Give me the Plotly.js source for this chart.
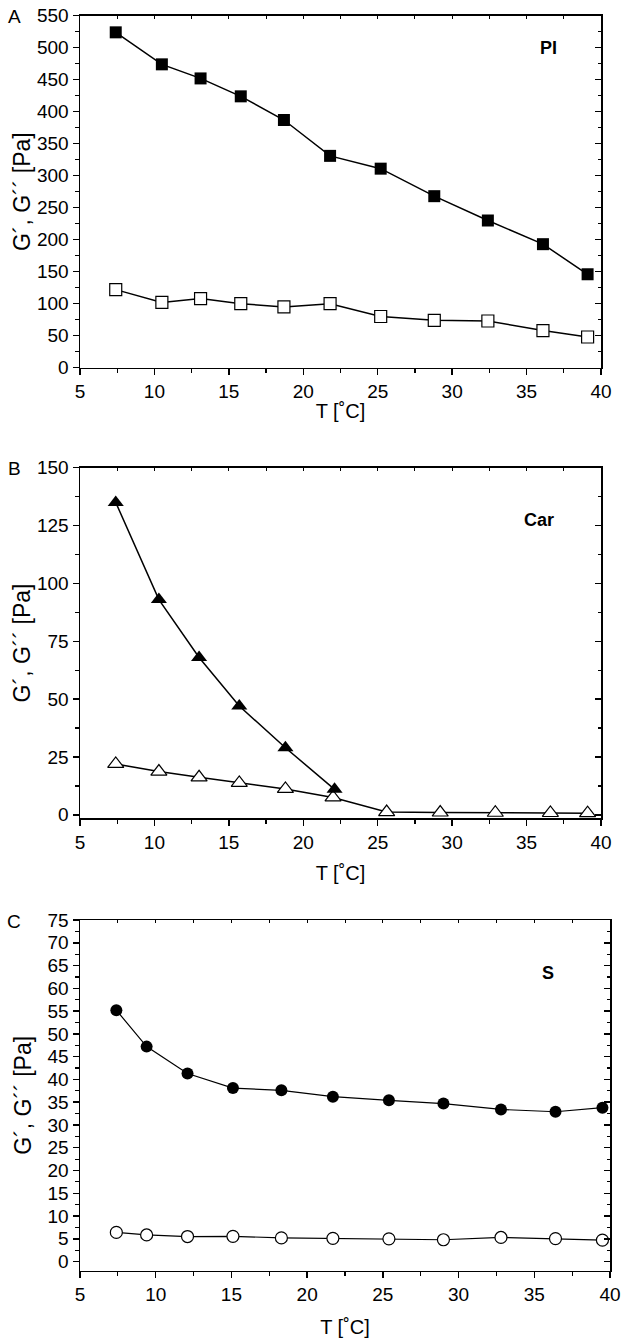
<!DOCTYPE html>
<html>
<head>
<meta charset="utf-8">
<script src="https://cdn.plot.ly/plotly-3.0.1.min.js"></script>
<style>html,body{margin:0;padding:0;background:#fff;}#chart{width:633px;height:1343px;}</style>
</head>
<body>
<div id="chart"></div>
<script>
// ---- Data ----
const panelLetters = ['A', 'B', 'C'];
const sampleNames = ['PI', 'Car', 'S'];
const xTitle = 'T [˚C]';
const yTitle = 'G´, G´´ [Pa]';

// Panel A – PI
const A_T = [7.4, 10.5, 13.1, 15.8, 18.7, 21.8, 25.2, 28.8, 32.4, 36.1, 39.1];
const A_Gp = [524, 474, 452, 424, 387, 331, 311, 268, 230, 193, 146];
const A_Gpp = [122, 102, 108, 100, 95, 100, 80, 74, 73, 58, 48];

// Panel B – Car
const B_T1 = [7.4, 10.3, 13.0, 15.7, 18.8, 22.1];
const B_Gp = [135, 93, 68, 47, 29, 11];
const B_T2 = [7.4, 10.3, 13.0, 15.7, 18.8, 22.0, 25.6, 29.2, 32.9, 36.6, 39.1];
const B_Gpp = [22, 18.7, 16.2, 13.8, 11.2, 7.5, 1.2, 1.0, 0.9, 0.8, 0.7];

// Panel C – S
const C_T = [7.4, 9.4, 12.1, 15.1, 18.3, 21.7, 25.4, 29.0, 32.8, 36.4, 39.5];
const C_Gp = [55.2, 47.2, 41.3, 38.1, 37.6, 36.2, 35.4, 34.7, 33.4, 32.9, 33.8];
const C_Gpp = [6.4, 5.85, 5.5, 5.55, 5.2, 5.1, 5.0, 4.8, 5.3, 5.05, 4.7];

// ---- Styling / layout ----
const W = 633, H = 1343;
const FONT = 'Liberation Sans, Arial, Helvetica, sans-serif';
const px = v => v / W;
const py = v => 1 - v / H;

const panels = [
  {x0: 80, x1: 601, yTop: 15.7, yBot: 367.7, yr: [0, 550], dy: 50, mdy: 25, ysoff: 0, xsoff: 3,
   traces: [
     {x: A_T, y: A_Gpp, sym: 'square-open', size: 12, lw: 1.5},
     {x: A_T, y: A_Gp, sym: 'square', size: 12, lw: 1.5}
   ], lab: {x: 548, y: 48}},
  {x0: 80, x1: 601, yTop: 467.7, yBot: 818.3, yr: [-1.5, 150], dy: 25, mdy: 12.5, ysoff: 0, xsoff: 14,
   traces: [
     {x: B_T2, y: B_Gpp, sym: 'triangle-up-open', size: 14, lw: 1.5},
     {x: B_T1, y: B_Gp, sym: 'triangle-up', size: 14, lw: 1.5}
   ], lab: {x: 539, y: 520}},
  {x0: 80, x1: 610, yTop: 920, yBot: 1270.7, yr: [-2, 75], dy: 5, mdy: 2.5, ysoff: 9, xsoff: 16,
   traces: [
     {x: C_T, y: C_Gpp, sym: 'circle-open', size: 12, lw: 1.2},
     {x: C_T, y: C_Gp, sym: 'circle', size: 12, lw: 1.2}
   ], lab: {x: 548, y: 973}}
];

const data = [];
const layout = {
  width: W, height: H,
  margin: {l: 0, r: 0, t: 0, b: 0, autoexpand: false},
  paper_bgcolor: '#fff', plot_bgcolor: '#fff',
  showlegend: false,
  font: {family: FONT, color: '#000', size: 19},
  annotations: []
};

panels.forEach((p, i) => {
  const n = i + 1;
  const xa = 'x' + (n === 1 ? '' : n), ya = 'y' + (n === 1 ? '' : n);
  const xo = 'x' + (n + 3), yo = 'y' + (n + 3);
  p.traces.forEach(t => {
    const open = t.sym.indexOf('open') >= 0;
    data.push({
      type: 'scatter', mode: 'lines+markers', x: t.x, y: t.y,
      xaxis: xa, yaxis: ya, cliponaxis: false, hoverinfo: 'x+y',
      line: {color: '#000', width: t.lw},
      marker: {symbol: open ? t.sym.replace('-open', '') : t.sym, size: t.size,
               color: open ? '#fff' : '#000', line: {color: '#000', width: open ? 1.2 : 0}}
    });
  });
  // dummy trace to realise the mirrored (top/right) tick axes
  data.push({type: 'scatter', mode: 'markers', x: [null], y: [null], xaxis: xo, yaxis: yo,
             showlegend: false, hoverinfo: 'skip'});

  const common = {showgrid: false, zeroline: false, showline: true, linecolor: '#000', linewidth: 1.5,
                  tickcolor: '#000'};
  layout['xaxis' + (n === 1 ? '' : n)] = Object.assign({}, common, {
    domain: [px(p.x0), px(p.x1)], anchor: ya, range: [5, 40], tick0: 0, dtick: 5,
    ticks: 'outside', ticklen: 6, tickwidth: 1.5,
    minor: {dtick: 2.5, ticks: 'outside', ticklen: 4, tickwidth: 1.2, tickcolor: '#000', showgrid: false},
    tickfont: {size: 19, family: FONT},
    title: {text: xTitle, font: {size: 20, family: FONT}, standoff: p.xsoff}
  });
  layout['yaxis' + (n === 1 ? '' : n)] = Object.assign({}, common, {
    domain: [py(p.yBot), py(p.yTop)], anchor: xa, range: p.yr, tick0: 0, dtick: p.dy,
    ticks: 'outside', ticklen: 6, tickwidth: 1.5,
    minor: {dtick: p.mdy, ticks: 'outside', ticklen: 4, tickwidth: 1.2, tickcolor: '#000', showgrid: false},
    tickfont: {size: 19, family: FONT},
    title: {text: yTitle, font: {size: 23, family: FONT}, standoff: p.ysoff}
  });
  layout['xaxis' + (n + 3)] = Object.assign({}, common, {
    overlaying: xa, anchor: ya, side: 'top', range: [5, 40], tick0: 0, dtick: 2.5,
    ticks: 'inside', ticklen: 3, tickwidth: 1, showticklabels: false
  });
  layout['yaxis' + (n + 3)] = Object.assign({}, common, {
    overlaying: ya, anchor: xa, side: 'right', range: p.yr, tick0: 0, dtick: p.dy,
    ticks: 'inside', ticklen: 6, tickwidth: 1.5, showticklabels: false,
    minor: {dtick: p.mdy, ticks: 'inside', ticklen: 3, tickwidth: 1.2, tickcolor: '#000', showgrid: false}
  });

  layout.annotations.push({
    xref: 'paper', yref: 'paper', x: px(14), y: py(p.yTop + 1), xanchor: 'center', yanchor: 'middle',
    text: panelLetters[i], showarrow: false, font: {size: 19, family: FONT}
  });
  layout.annotations.push({
    xref: 'paper', yref: 'paper', x: px(p.lab.x), y: py(p.lab.y), xanchor: 'center', yanchor: 'middle',
    text: '<b>' + sampleNames[i] + '</b>', showarrow: false, font: {size: 18, family: FONT}
  });
});

Plotly.newPlot('chart', data, layout, {displayModeBar: false, staticPlot: true});
</script>
</body>
</html>
